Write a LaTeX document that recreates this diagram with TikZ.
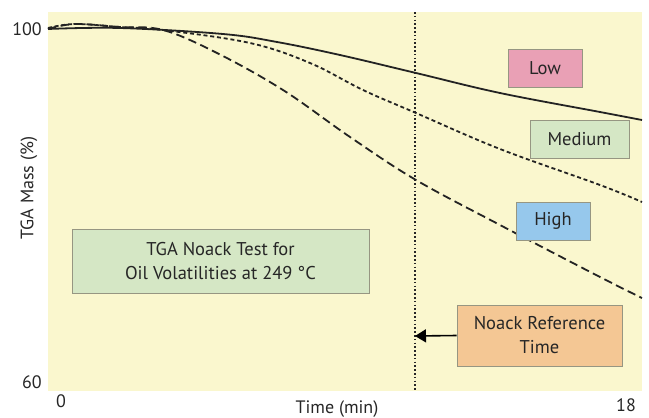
\documentclass[tikz,border=0pt]{standalone}
\usepackage{fontspec}
\setmainfont{PT Sans}
\usetikzlibrary{arrows.meta,positioning}
\definecolor{plotbg}{RGB}{250,247,206}
\definecolor{lowpink}{RGB}{233,160,181}
\definecolor{medgreen}{RGB}{213,231,197}
\definecolor{highblue}{RGB}{150,200,236}
\definecolor{refor}{RGB}{244,199,148}
\definecolor{boxedge}{RGB}{150,150,130}
\definecolor{curvegray}{RGB}{35,35,35}

\begin{document}
\begin{tikzpicture}[
      x=1pt,y=-1pt,
      lbl/.style={draw=boxedge,line width=0.8pt,align=center,font=\fontsize{18.5}{24}\selectfont,text=black!85,inner sep=0pt},
      ax/.style={font=\fontsize{18}{20}\selectfont,text=black!85,inner sep=0pt},
      crv/.style={curvegray,line width=1.8pt,smooth,tension=0.6}
    ]
    \useasboundingbox (0,0) rectangle (649,418);
    \fill[plotbg] (48,12) rectangle (642,391);

    % axis labels
    \node[ax,anchor=east] (ytop) at (42,29) {100};
    \node[ax,anchor=east] (ybot) at (42,382) {60};
    \node[ax] (xl) at (61,401) {0};
    \node[ax] (xr) at (626,405) {18};
    \node[ax] (xt) at (337,409) {Time (min)};
    \node[ax,rotate=90] (yt) at (29,188) {TGA Mass (\%)};

    % reference time
    \draw[line width=1.3pt,dash pattern=on 1.6pt off 2.2pt,black!85] (415,12) -- (415,391);
    \coordinate (reft) at (415,336);

    % curves
    \draw[crv] plot coordinates {(48,29) (120,28) (223,34) (277,42) (340,55) (416,73) (500,93) (600,112) (642,120)};
    \draw[crv,dash pattern=on 4pt off 2.8pt] plot coordinates {(48,28) (75,24) (120,27) (163,30) (250,43) (310,63) (363,90) (416,113) (500,149) (600,185) (642,202)};
    \draw[crv,dash pattern=on 8.5pt off 4.5pt] plot coordinates {(48,29) (75,24) (120,27) (163,30) (217,53) (283,90) (350,137) (416,180) (500,225) (600,277) (642,298)};

    % boxes
    \node[lbl,fill=lowpink,minimum width=74pt,minimum height=38pt] (low) at (545,68) {Low};
    \node[lbl,fill=medgreen,minimum width=99pt,minimum height=38pt] (med) at (579.5,139) {Medium};
    \node[lbl,fill=highblue,minimum width=74pt,minimum height=38pt] (high) at (553,221) {High};
    \node[lbl,fill=medgreen,minimum width=297pt,minimum height=64pt] (tga) at (220.5,261) {TGA Noack Test for\\Oil Volatilities at 249 °C};
    \node[lbl,fill=refor,minimum width=165pt,minimum height=61pt] (nref) at (539.5,335.5) {Noack Reference\\Time};

    \draw[-{Triangle[length=11pt,width=13pt]},line width=1.6pt] (nref.west) -- (reft);
\end{tikzpicture}
\end{document}
